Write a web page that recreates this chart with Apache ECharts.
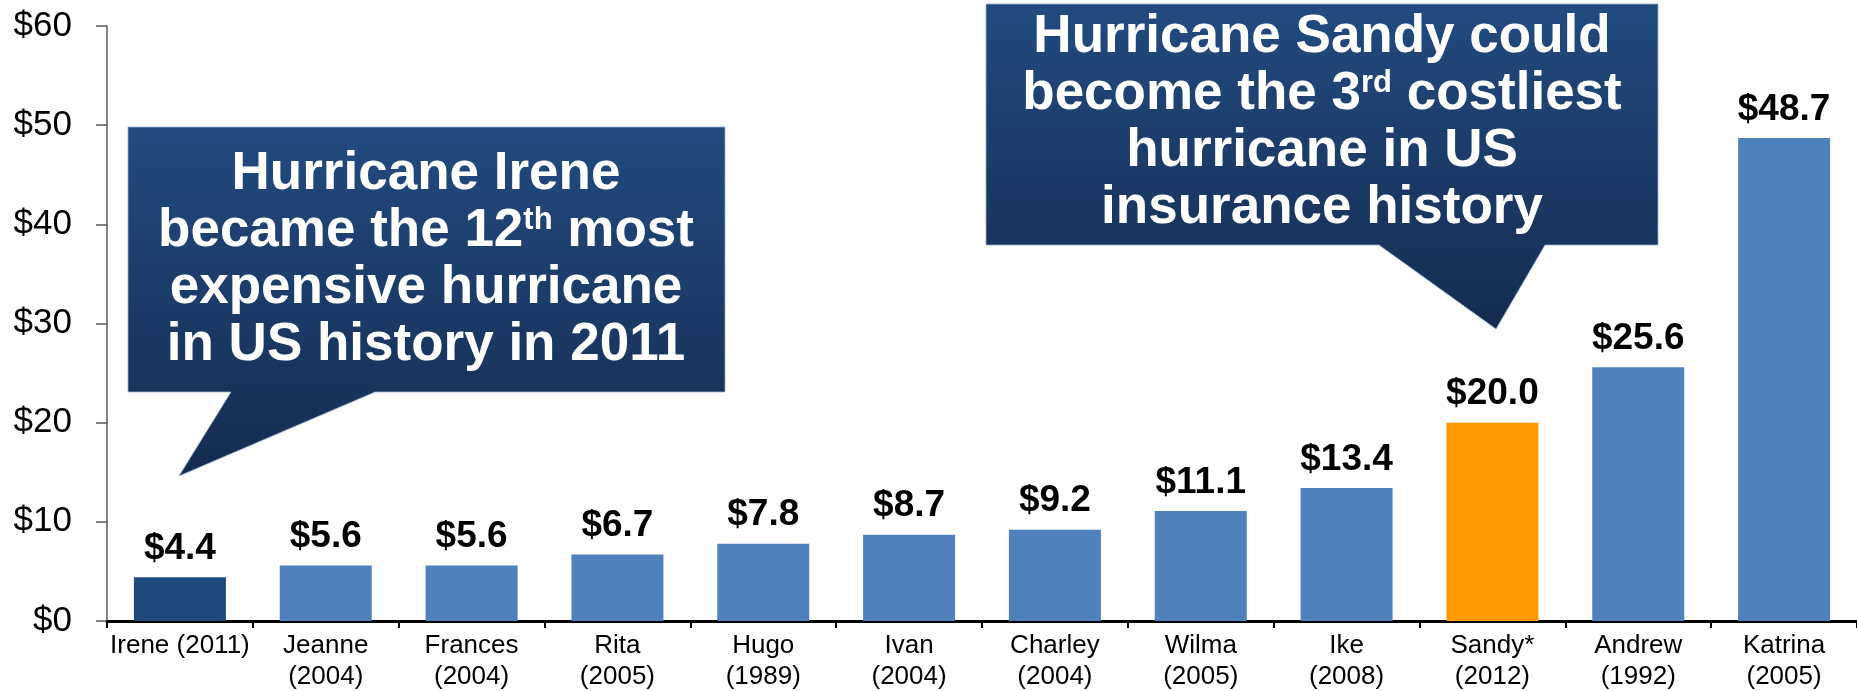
<!DOCTYPE html>
<html>
<head>
<meta charset="utf-8">
<script src="https://cdn.jsdelivr.net/npm/echarts@6/dist/echarts.min.js"></script>
<style>
  html, body { margin: 0; padding: 0; background: #fff; }
  #chart { width: 1857px; height: 691px; }
</style>
</head>
<body>
<div id="chart"></div>
<script>
// hurricane insured losses ($ billions)
var categories = ['Irene (2011)', 'Jeanne\n(2004)', 'Frances\n(2004)', 'Rita\n(2005)', 'Hugo\n(1989)',
  'Ivan\n(2004)', 'Charley\n(2004)', 'Wilma\n(2005)', 'Ike\n(2008)', 'Sandy*\n(2012)',
  'Andrew\n(1992)', 'Katrina\n(2005)'];
var losses = [4.4, 5.6, 5.6, 6.7, 7.8, 8.7, 9.2, 11.1, 13.4, 20.0, 25.6, 48.7];
var yTicks = [0, 10, 20, 30, 40, 50, 60];

var ireneNote = ['Hurricane Irene', 'became the 12{sup|th} most', 'expensive hurricane', 'in US history in 2011'];
var sandyNote = ['Hurricane Sandy could', 'become the 3{sup|rd} costliest', 'hurricane in US', 'insurance history'];

var FONT = 'Arial, "Liberation Sans", Helvetica, sans-serif';

function barColor(p) {
  if (p.dataIndex === 0) return '#1F497D';   // Irene
  if (p.dataIndex === 9) return '#FF9900';   // Sandy
  return '#4F81BD';
}

// speech bubble callout
function callout(points, cx, cy, lines) {
  return {
    type: 'group',
    children: [{
      type: 'polygon',
      shape: { points: points },
      style: {
        fill: new echarts.graphic.LinearGradient(0, 0, 0, 1, [
          { offset: 0, color: '#224B80' },
          { offset: 1, color: '#152B50' }
        ]),
        stroke: 'rgba(150,172,205,0.8)',
        lineWidth: 1
      }
    }, {
      type: 'text',
      x: cx,
      y: cy,
      style: {
        text: lines.join('\n'),
        fill: '#fff',
        font: 'bold 53px ' + FONT,
        lineHeight: 57,
        align: 'center',
        verticalAlign: 'middle',
        rich: {
          sup: { fill: '#fff', font: 'bold 31px ' + FONT, verticalAlign: 'top', lineHeight: 31, padding: [2, 0, 0, 0] }
        }
      }
    }]
  };
}

var chart = echarts.init(document.getElementById('chart'));
chart.setOption({
  animation: false,
  grid: { left: 107, right: 0, top: 26, bottom: 70, outerBoundsMode: 'none' },
  xAxis: {
    type: 'category',
    data: categories,
    axisLine: { lineStyle: { color: '#000', width: 3 } },
    axisTick: { show: true, length: 7, lineStyle: { color: '#000', width: 2 } },
    axisLabel: { interval: 0, margin: 9, color: '#000', fontSize: 26, lineHeight: 31, fontFamily: FONT }
  },
  yAxis: {
    type: 'value',
    min: yTicks[0],
    max: yTicks[yTicks.length - 1],
    interval: 10,
    splitLine: { show: false },
    axisLine: { show: true, lineStyle: { color: '#595959', width: 1.5 } },
    axisTick: { show: true, length: 11, lineStyle: { color: '#595959', width: 1.5 } },
    axisLabel: {
      margin: 35, color: '#000', fontSize: 35, fontFamily: FONT,
      formatter: function (v) { return '$' + v; }
    }
  },
  series: [{
    type: 'bar',
    data: losses,
    barWidth: 92,
    itemStyle: { color: barColor },
    label: {
      show: true,
      position: 'top',
      distance: 10,
      color: '#000',
      fontWeight: 'bold',
      fontSize: 37,
      fontFamily: FONT,
      formatter: function (p) { return '$' + p.value.toFixed(1); }
    }
  }],
  graphic: [
    callout([[128, 127], [725, 127], [725, 392], [375, 392], [179, 476], [231, 392], [128, 392]], 426, 260, ireneNote),
    callout([[986, 4], [1658, 4], [1658, 245], [1545, 245], [1496, 329], [1379, 245], [986, 245]], 1322, 123, sandyNote)
  ]
});
</script>
</body>
</html>
